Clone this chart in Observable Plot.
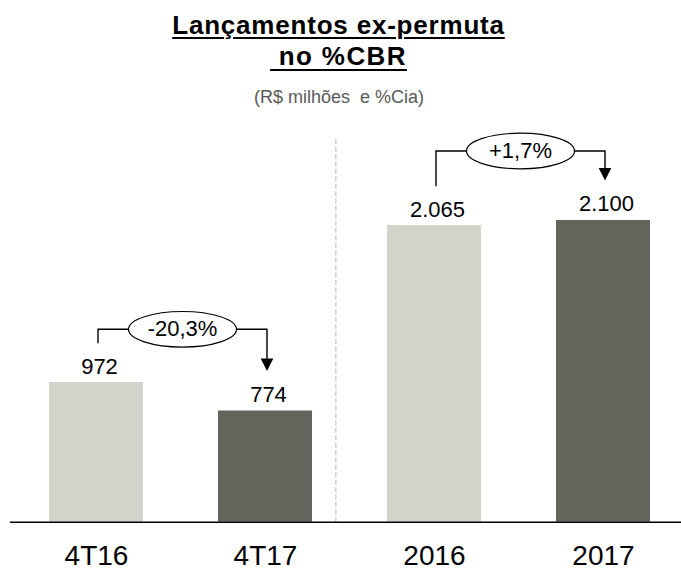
<!DOCTYPE html>
<html>
<head>
<meta charset="utf-8">
<script src="https://cdn.jsdelivr.net/npm/d3@7"></script>
<script src="https://cdn.jsdelivr.net/npm/@observablehq/plot@0.6"></script>
<style>
  body { margin: 0; background: #fff; font-family: "Liberation Sans", Arial, sans-serif; }
  #wrap { position: relative; width: 681px; height: 571px; overflow: hidden; }
  #title { position: absolute; left: 0; top: 10.4px; width: 677px; text-align: center; font-weight: bold;
           font-size: 26px; line-height: 31px; letter-spacing: 0.8px; color: #000; }
  #title span { text-decoration: underline; text-decoration-thickness: 2px; }
  #t1 { text-underline-offset: 2.5px; }
  #t2 { text-underline-offset: 4px; letter-spacing: 1.4px; }
  #subtitle { position: absolute; left: 0; top: 86.7px; width: 678px; text-align: center; font-size: 18px;
              line-height: 20px; color: #595959; }
  #chart { position: absolute; left: 0; top: 110px; }
</style>
</head>
<body>
<div id="wrap">
  <div id="title"><span id="t1">Lançamentos ex-permuta</span><br><span id="t2">&nbsp;no %CBR</span></div>
  <div id="subtitle">(R$ milhões&nbsp; e %Cia)</div>
  <div id="chart"></div>
</div>
<script>
// ---- data ----
const categories = ["4T16", "4T17", "2016", "2017"];
const values = [972, 774, 2065, 2100];
const kinds = ["anterior", "atual", "anterior", "atual"];
const pairs = [["4T16", "4T17"], ["2016", "2017"]];
const changeLabels = ["-20,3%", "+1,7%"];
const kindColors = ["#d3d3cb", "#64645c"];

const data = categories.map((c, i) => ({cat: c, value: values[i], kind: kinds[i]}));
const fmt = d3.formatLocale({decimal: ",", thousands: ".", grouping: [3], currency: ["R$", ""]}).format(",d");
const maxValue = d3.max(values);

function bracketMark(index, scales, channels, dimensions, context) {
  const x = scales.x, y = scales.y;
  const bw = typeof x.bandwidth === "function" ? x.bandwidth() : (x.bandwidth ?? 0);
  const g = d3.create("svg:g");
  pairs.forEach(([a, b], i) => {
    const va = values[categories.indexOf(a)];
    const vb = values[categories.indexOf(b)];
    const level = Math.max(va, vb) * 1.1 + 270;
    const xa = x(a) + bw / 2 + 2;
    const xb = x(b) + bw / 2 + 2;
    const yl = y(level);
    const ya = y(va + 270);
    const yb = y(vb + 275);
    g.append("path")
      .attr("d", `M${xa},${ya}V${yl}H${xb}V${yb - 11}`)
      .attr("fill", "none").attr("stroke", "#000").attr("stroke-width", 1.4);
    g.append("path")
      .attr("d", `M${xb - 6.3},${yb - 12.4}L${xb + 6.3},${yb - 12.4}L${xb},${yb}Z`)
      .attr("fill", "#000");
    const cx = (xa + xb) / 2;
    g.append("ellipse")
      .attr("cx", cx).attr("cy", yl).attr("rx", 54).attr("ry", 17.8)
      .attr("fill", "#fff").attr("stroke", "#000").attr("stroke-width", 1.2);
    g.append("text")
      .attr("x", cx).attr("y", yl).attr("dy", "0.32em")
      .attr("text-anchor", "middle").attr("font-size", 22).attr("fill", "#000")
      .text(changeLabels[i]);
  });
  return g.node();
}

const chart = Plot.plot({
  width: 681,
  height: 461,
  marginLeft: 10,
  marginRight: 0,
  marginTop: 9.4,
  marginBottom: 49.3,
  style: {fontFamily: '"Liberation Sans", Arial, sans-serif', color: "#000", background: "#fff", overflow: "visible"},
  x: {domain: categories, paddingInner: 0.444, paddingOuter: 0.1956, align: 0.556},
  y: {domain: [0, 2800], axis: null},
  color: {domain: ["anterior", "atual"], range: kindColors},
  marks: [
    Plot.ruleX(["2016"], {y1: 0, y2: maxValue * 1.25, dx: -98.6, stroke: "#b4b4b4", strokeWidth: 1,
      strokeDasharray: "5,2.4", insetBottom: 5.5}),
    Plot.barY(data, {x: "cat", y: "value", fill: "kind"}),
    Plot.ruleY([0], {stroke: "#000", strokeWidth: 1.5}),
    Plot.text(data, {x: "cat", y: "value", text: d => fmt(d.value), lineAnchor: "bottom", dy: -9, dx: 3,
      fontSize: 22, fill: "#000"}),
    Plot.axisX({tickSize: 0, tickPadding: 23, fontSize: 28, fill: "#000", label: null}),
    bracketMark
  ]
});
document.getElementById("chart").appendChild(chart);
</script>
</body>
</html>
